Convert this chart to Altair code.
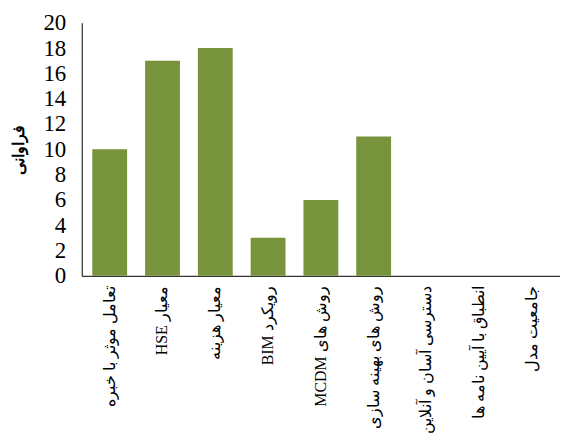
import altair as alt
import pandas as pd

categories = [
    "تعامل موثر با خبره",
    "معیار HSE",
    "معیار هزینه",
    "رویکرد BIM",
    "روش های MCDM",
    "روش های بهینه سازی",
    "دسترسی آسان و آنلاین",
    "انطباق با آیین نامه ها",
    "جامعیت مدل",
]
values = [10, 17, 18, 3, 6, 11, 0, 0, 0]
y_ticks = list(range(0, 21, 2))

# right-to-left embedding so mixed Persian/Latin labels read as in the original
df = pd.DataFrame({"cat": ["\u202b" + c + "\u202c" for c in categories], "val": values})
order = list(df["cat"])

serif = "Liberation Serif"

chart = alt.Chart(df).mark_bar(color="#77933C").encode(
    x=alt.X("cat:N", sort=order, title=None,
            scale=alt.Scale(paddingInner=0.34, paddingOuter=0.2),
            axis=alt.Axis(labelAngle=-90, labelFontSize=16, labelFont=serif,
                          labelColor="black", ticks=False, domainColor="black",
                          labelPadding=10, labelLimit=200)),
    y=alt.Y("val:Q", title="فراوانی", scale=alt.Scale(domain=[0, 20], nice=False),
            axis=alt.Axis(values=y_ticks, grid=False, ticks=False, domainColor="black",
                          labelFontSize=23, labelFont=serif, labelColor="black",
                          labelPadding=16, titleFontSize=16, titleFont=serif,
                          titleColor="black", titleFontWeight="bold", titlePadding=16)),
).properties(
    width=480, height=254,
    autosize=alt.AutoSizeParams(type="none"),
    padding={"left": 74, "top": 14, "right": 0, "bottom": 160},
).configure_view(stroke=None)

chart.save("out.html", embed_options={"renderer": "svg", "actions": False})
